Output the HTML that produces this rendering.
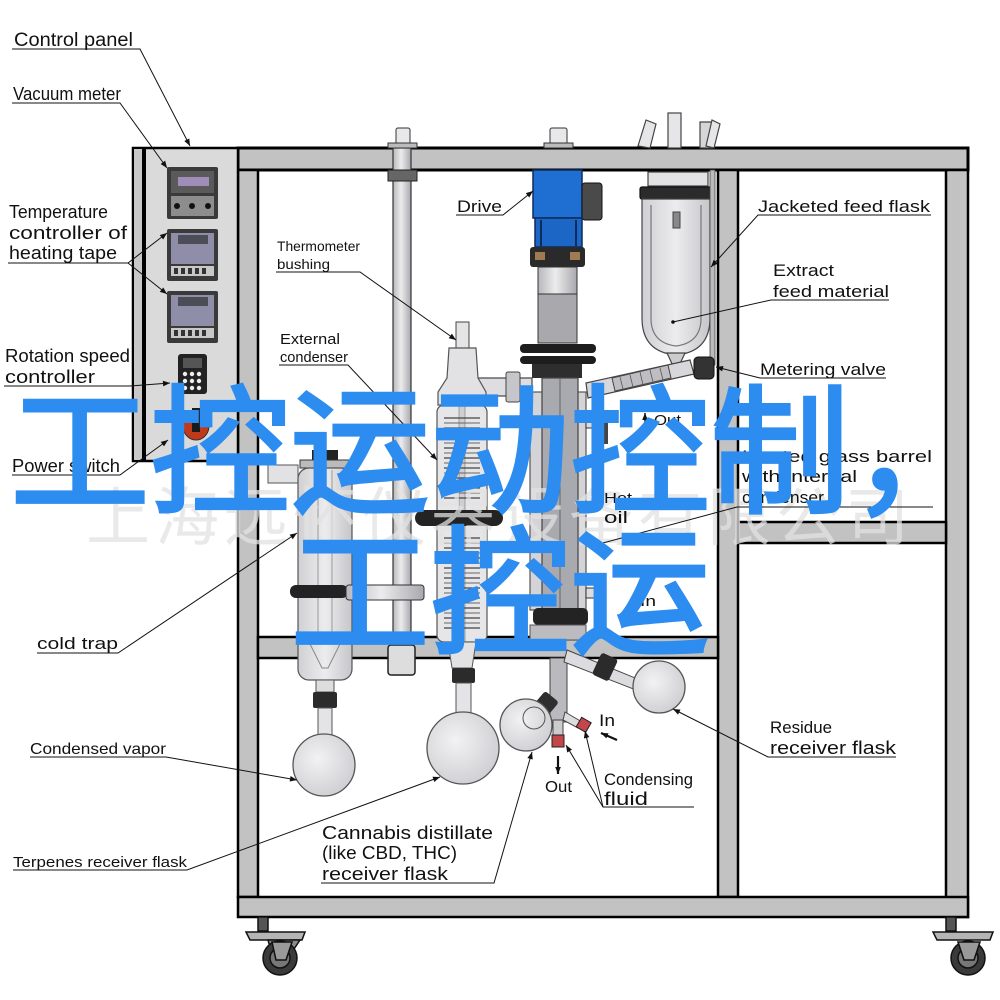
<!DOCTYPE html>
<html><head><meta charset="utf-8"><style>
html,body{margin:0;padding:0;background:#fff;}
#c{position:relative;width:1000px;height:1000px;overflow:hidden;background:#fff;}
svg{position:absolute;left:0;top:0;}
</style></head><body><div id="c">
<svg width="1000" height="1000" viewBox="0 0 1000 1000" xmlns="http://www.w3.org/2000/svg">
<defs>
<marker id="ar" viewBox="0 0 10 10" refX="10" refY="5" markerWidth="11" markerHeight="7" orient="auto" markerUnits="userSpaceOnUse"><path d="M0,1 L10,5 L0,9 z" fill="#111"/></marker>
<radialGradient id="gl" cx="40%" cy="40%" r="65%"><stop offset="0" stop-color="#f2f2f4"/><stop offset="1" stop-color="#cfcfd3"/></radialGradient>
<linearGradient id="cy" x1="0" x2="1"><stop offset="0" stop-color="#b8b8bc"/><stop offset="0.45" stop-color="#ececee"/><stop offset="1" stop-color="#a8a8ae"/></linearGradient>
<linearGradient id="gc" x1="0" x2="1"><stop offset="0" stop-color="#d0d0d4"/><stop offset="0.5" stop-color="#ececee"/><stop offset="1" stop-color="#c6c6ca"/></linearGradient>
</defs>

<!-- ===== FRAME ===== -->
<rect x="238" y="148" width="730" height="22" fill="#c2c2c2" stroke="#000" stroke-width="3"/>
<rect x="238" y="170" width="20" height="727" fill="#c2c2c2" stroke="#000" stroke-width="2.5"/>
<rect x="718" y="170" width="20" height="727" fill="#c2c2c2" stroke="#000" stroke-width="2.5"/>
<rect x="946" y="170" width="22" height="747" fill="#c2c2c2" stroke="#000" stroke-width="2.5"/>
<rect x="738" y="522" width="208" height="21" fill="#c2c2c2" stroke="#000" stroke-width="2.5"/>
<rect x="258" y="637" width="460" height="21" fill="#c2c2c2" stroke="#000" stroke-width="2.5"/>
<rect x="238" y="897" width="730" height="20" fill="#c2c2c2" stroke="#000" stroke-width="2.5"/>

<!-- casters -->
<g stroke="#111" stroke-width="1.5">
<rect x="258" y="917" width="10" height="14" fill="#555"/>
<path d="M246 932 L305 932 L302 940 L250 940 Z" fill="#b5b5b5"/>
<path d="M268 940 L300 940 L290 955 L272 955 Z" fill="#8a8a8a"/>
<circle cx="280" cy="958" r="17" fill="#3a3a3a"/>
<circle cx="280" cy="958" r="10" fill="#777"/>
<path d="M272 942 L292 942 L286 960 L276 960 Z" fill="#9a9a9a"/>
<rect x="946" y="917" width="10" height="14" fill="#555"/>
<path d="M933 932 L993 932 L990 940 L937 940 Z" fill="#b5b5b5"/>
<circle cx="968" cy="958" r="17" fill="#3a3a3a"/>
<circle cx="968" cy="958" r="10" fill="#777"/>
<path d="M958 942 L980 942 L974 960 L964 960 Z" fill="#9a9a9a"/>
</g>

<!-- ===== CONTROL PANEL ===== -->
<rect x="133" y="148" width="105" height="313" fill="#dadada" stroke="#000" stroke-width="2.5"/>
<rect x="133" y="148" width="10" height="313" fill="#c8c8c8" stroke="#000" stroke-width="2"/>
<line x1="145" y1="148" x2="145" y2="461" stroke="#000" stroke-width="2"/>
<!-- vacuum meter -->
<rect x="167" y="167" width="51" height="52" rx="2" fill="#3a3a3a"/>
<rect x="171" y="171" width="43" height="22" fill="#5a5a5a"/>
<rect x="178" y="177" width="31" height="9" fill="#a08cb8"/>
<rect x="171" y="196" width="43" height="20" fill="#8d8d8d"/>
<circle cx="177" cy="206" r="3" fill="#111"/><circle cx="192" cy="206" r="3" fill="#111"/><circle cx="208" cy="206" r="3" fill="#111"/>
<!-- temp controllers -->
<g>
<rect x="167" y="229" width="51" height="52" rx="2" fill="#3a3a3a"/>
<rect x="171" y="233" width="43" height="31" fill="#8e8ea8"/>
<rect x="178" y="235" width="30" height="9" fill="#4d4d58"/>
<rect x="171" y="266" width="43" height="10" fill="#c8c8c8"/>
<path d="M174 268h4v6h-4zM181 268h4v6h-4zM188 268h4v6h-4zM195 268h4v6h-4zM202 268h4v6h-4z" fill="#333"/>
</g>
<g transform="translate(0,62)">
<rect x="167" y="229" width="51" height="52" rx="2" fill="#3a3a3a"/>
<rect x="171" y="233" width="43" height="31" fill="#8e8ea8"/>
<rect x="178" y="235" width="30" height="9" fill="#4d4d58"/>
<rect x="171" y="266" width="43" height="10" fill="#c8c8c8"/>
<path d="M174 268h4v6h-4zM181 268h4v6h-4zM188 268h4v6h-4zM195 268h4v6h-4zM202 268h4v6h-4z" fill="#333"/>
</g>
<!-- rotation speed -->
<rect x="178" y="354" width="29" height="40" rx="3" fill="#222"/>
<rect x="183" y="358" width="19" height="10" fill="#555"/>
<g fill="#eee"><circle cx="185" cy="374" r="2.2"/><circle cx="192" cy="374" r="2.2"/><circle cx="199" cy="374" r="2.2"/><circle cx="185" cy="381" r="2.2"/><circle cx="192" cy="381" r="2.2"/><circle cx="199" cy="381" r="2.2"/><circle cx="185" cy="388" r="2.2"/><circle cx="192" cy="388" r="2.2"/><circle cx="199" cy="388" r="2.2"/></g>
<!-- power switch -->
<ellipse cx="196" cy="426" rx="13" ry="14" fill="#c0391b" stroke="#333"/>
<rect x="192" y="408" width="8" height="24" fill="#1a1a1a"/>

<!-- ===== SUPPORT ROD ===== -->
<rect x="393" y="148" width="18" height="527" fill="url(#cy)" stroke="#333" stroke-width="1.2"/>
<rect x="396" y="128" width="14" height="16" rx="2" fill="#e8e8ea" stroke="#333"/>
<rect x="388" y="143" width="29" height="5" fill="#bbb" stroke="#333"/>
<rect x="388" y="170" width="29" height="11" fill="#666" stroke="#222"/>
<rect x="388" y="645" width="27" height="30" rx="3" fill="#ddd" stroke="#222" stroke-width="1.5"/>

<!-- ===== DRIVE ===== -->
<rect x="550" y="128" width="17" height="16" rx="2" fill="#e8e8ea" stroke="#333"/>
<rect x="544" y="143" width="29" height="5" fill="#bbb" stroke="#333"/>
<rect x="533" y="170" width="49" height="48" fill="#1f6ed2" stroke="#0d2c5a" stroke-width="1.5"/>
<rect x="582" y="183" width="20" height="37" rx="3" fill="#4a4a4a" stroke="#111"/>
<rect x="535" y="218" width="47" height="29" fill="#1c66c6" stroke="#0d2c5a" stroke-width="1.5"/>
<line x1="541" y1="220" x2="541" y2="246" stroke="#0d2c5a" stroke-width="2"/>
<line x1="576" y1="220" x2="576" y2="246" stroke="#0d2c5a" stroke-width="2"/>
<rect x="530" y="247" width="55" height="20" rx="3" fill="#2a2a2a"/>
<rect x="535" y="252" width="10" height="8" fill="#a07a50"/><rect x="570" y="252" width="10" height="8" fill="#a07a50"/>
<rect x="538" y="267" width="39" height="27" fill="url(#cy)" stroke="#333"/>
<rect x="538" y="294" width="39" height="49" fill="#a9a9ad" stroke="#333"/>
<rect x="520" y="344" width="76" height="9" rx="4" fill="#1d1d1d"/>
<rect x="520" y="356" width="76" height="8" rx="4" fill="#1d1d1d"/>
<rect x="532" y="364" width="50" height="14" fill="#2e2e2e"/>

<!-- ===== FEED FLASK ===== -->
<g stroke="#444" stroke-width="1.2">
<path d="M638 146 L646 120 L656 124 L650 148 Z" fill="#e6e6e8"/>
<rect x="668" y="113" width="13" height="35" fill="#e6e6e8"/>
<path d="M700 148 L700 122 L712 122 L712 148 Z" fill="#d6d6d8"/>
<path d="M706 146 L712 120 L720 124 L714 148 Z" fill="#e6e6e8"/>
<rect x="648" y="172" width="60" height="14" fill="#e2e2e4"/>
<rect x="640" y="187" width="73" height="12" rx="2" fill="#2b2b2b" stroke="#111"/>
<path d="M642 199 L642 318 Q642 352 676 355 Q710 352 710 318 L710 199 Z" fill="url(#gc)"/>
<path d="M651 205 L651 320 Q652 343 676 346 Q700 343 701 320 L701 205" fill="none" stroke="#777"/>
<path d="M667 353 L685 353 L678 368 L674 368 Z" fill="#ccc"/>
</g>
<rect x="673" y="212" width="7" height="16" fill="#888" stroke="#444"/>
<circle cx="673" cy="322" r="1.8" fill="#111"/>
<rect x="710" y="170" width="5" height="195" fill="#bbb" stroke="#444" stroke-width="0.8"/>

<!-- metering valve & arm -->
<path d="M586 383 L690 360 L694 374 L588 398 Z" fill="#d8d8dc" stroke="#444" stroke-width="1.2"/>
<path d="M612 378 L668 365 L671 378 L615 391 Z" fill="#bdbdc2" stroke="#444"/>
<g stroke="#555" stroke-width="0.8"><line x1="620" y1="377" x2="623" y2="389"/><line x1="630" y1="375" x2="633" y2="387"/><line x1="640" y1="372" x2="643" y2="385"/><line x1="650" y1="370" x2="653" y2="382"/><line x1="660" y1="368" x2="663" y2="380"/></g>
<rect x="694" y="357" width="20" height="22" rx="4" fill="#333" stroke="#111"/>

<!-- ===== REACTOR COLUMN ===== -->
<rect x="530" y="392" width="56" height="218" fill="#d4d4d8" stroke="#555" stroke-width="1.2"/>
<rect x="542" y="378" width="36" height="262" fill="#a9a9b0" stroke="#444" stroke-width="1.2"/>
<line x1="560" y1="378" x2="560" y2="640" stroke="#666"/>
<rect x="533" y="608" width="55" height="17" rx="5" fill="#232323"/>
<rect x="530" y="625" width="56" height="15" fill="#bcbcc0" stroke="#555"/>
<!-- hot oil ports -->
<path d="M586 418 L606 418 L606 440 L598 440 L598 428 L586 428 Z" fill="#ddd" stroke="#333"/>
<rect x="602" y="412" width="6" height="32" fill="#444"/>
<path d="M586 588 L606 588 L606 612 L598 612 L598 598 L586 598 Z" fill="#ddd" stroke="#333"/>
<rect x="600" y="584" width="6" height="32" fill="#444"/>
<line x1="645" y1="425" x2="645" y2="413" stroke="#111" stroke-width="1.5" marker-end="url(#ar)"/>
<!-- left arm to condenser -->
<rect x="476" y="378" width="56" height="18" fill="#dedee2" stroke="#444" stroke-width="1.2"/>
<rect x="506" y="372" width="14" height="30" rx="2" fill="#c6c6ca" stroke="#444"/>

<!-- below shelf -->
<rect x="550" y="658" width="17" height="64" fill="#b9b9be" stroke="#444"/>
<path d="M567 650 L640 680 L636 690 L564 662 Z" fill="#dcdce0" stroke="#444"/>
<rect x="596" y="655" width="18" height="24" rx="3" transform="rotate(25 605 667)" fill="#2b2b2b"/>
<circle cx="659" cy="687" r="26" fill="url(#gl)" stroke="#555" stroke-width="1.3"/>
<rect x="536" y="694" width="18" height="22" rx="3" transform="rotate(40 545 705)" fill="#2e2e2e"/>
<circle cx="526" cy="725" r="26" fill="url(#gl)" stroke="#555" stroke-width="1.3"/>
<circle cx="534" cy="718" r="11" fill="none" stroke="#555"/>
<rect x="553" y="720" width="10" height="15" fill="#ccc" stroke="#444"/>
<rect x="552" y="735" width="12" height="12" fill="#c2464a" stroke="#222"/>
<path d="M565 712 L582 722 L578 728 L563 720 Z" fill="#ddd" stroke="#444"/>
<rect x="578" y="719" width="11" height="11" transform="rotate(30 583 725)" fill="#c2464a" stroke="#222"/>

<!-- ===== EXTERNAL CONDENSER ===== -->
<rect x="456" y="322" width="13" height="26" fill="#e4e4e6" stroke="#444"/>
<path d="M449 348 L476 348 L478 378 L486 392 L486 405 L438 405 L438 392 L447 378 Z" fill="#e2e2e4" stroke="#555" stroke-width="1.2"/>
<rect x="437" y="405" width="50" height="237" rx="7" fill="#e6e6e8" stroke="#555" stroke-width="1.2"/>
<rect x="459" y="405" width="6" height="237" fill="#cfcfd3" stroke="#777" stroke-width="0.6"/>
<g fill="none" stroke="#444" stroke-width="1.3">
<path d="M444 418 h36 M444 428 h36 M444 438 h36 M444 448 h36 M444 458 h36 M444 468 h36 M444 478 h36 M444 488 h36 M444 498 h36 M444 538 h36 M444 548 h36 M444 558 h36 M444 568 h36 M444 578 h36 M444 588 h36 M444 598 h36 M444 608 h36 M444 618 h36 M444 628 h36"/>
</g>
<g fill="none" stroke="#666" stroke-width="1">
<path d="M444 423 h36 M444 433 h36 M444 443 h36 M444 453 h36 M444 463 h36 M444 473 h36 M444 483 h36 M444 493 h36 M444 543 h36 M444 553 h36 M444 563 h36 M444 573 h36 M444 583 h36 M444 593 h36 M444 603 h36 M444 613 h36 M444 623 h36"/>
</g>
<rect x="415" y="510" width="88" height="16" rx="8" fill="#232323"/>
<path d="M448 642 L476 642 L472 668 L452 668 Z" fill="#e2e2e4" stroke="#555"/>
<rect x="452" y="668" width="23" height="15" rx="2" fill="#2b2b2b"/>
<rect x="456" y="683" width="15" height="34" fill="#e4e4e6" stroke="#555"/>
<circle cx="463" cy="748" r="36" fill="url(#gl)" stroke="#555" stroke-width="1.3"/>

<!-- ===== COLD TRAP ===== -->
<rect x="268" y="465" width="30" height="18" fill="#e2e2e4" stroke="#555"/>
<rect x="312" y="450" width="26" height="11" fill="#222"/>
<rect x="300" y="460" width="50" height="8" fill="#bbb" stroke="#333"/>
<rect x="298" y="468" width="54" height="212" rx="11" fill="url(#gc)" stroke="#555" stroke-width="1.2"/>
<line x1="318" y1="470" x2="318" y2="640" stroke="#999"/>
<line x1="332" y1="470" x2="332" y2="640" stroke="#999"/>
<path d="M308 640 L342 640 L328 668 L322 668 Z" fill="none" stroke="#888"/>
<rect x="290" y="585" width="58" height="13" rx="6" fill="#232323"/>
<rect x="346" y="585" width="78" height="15" rx="3" fill="url(#cy)" stroke="#333"/>
<rect x="316" y="680" width="18" height="12" fill="#ddd" stroke="#555"/>
<rect x="313" y="692" width="24" height="16" rx="2" fill="#2b2b2b"/>
<rect x="318" y="708" width="14" height="28" fill="#e4e4e6" stroke="#555"/>
<circle cx="324" cy="765" r="31" fill="url(#gl)" stroke="#555" stroke-width="1.3"/>

<!-- ===== WATERMARK ===== -->
<text x="500" y="540" text-anchor="middle" font-family="'Noto Sans CJK SC','WenQuanYi Zen Hei',sans-serif" font-size="64" fill="#e2e2e2" fill-opacity="0.75" letter-spacing="5">上海远怀仪器设备有限公司</text>

<!-- ===== LEADERS ===== -->
<g stroke="#111" stroke-width="1" fill="none">
<polyline points="12,49 140,49 190,146" marker-end="url(#ar)"/>
<polyline points="12,103 120,103 167,168" marker-end="url(#ar)"/>
<polyline points="8,263 128,263 167,233" marker-end="url(#ar)"/>
<polyline points="128,263 167,294" marker-end="url(#ar)"/>
<polyline points="4,386 130,386 170,383" marker-end="url(#ar)"/>
<polyline points="12,475 120,475 168,440" marker-end="url(#ar)"/>
<polyline points="276,272 360,272 456,340" marker-end="url(#ar)"/>
<polyline points="279,365 348,365 437,460" marker-end="url(#ar)"/>
<polyline points="456,215 503,215 533,191" marker-end="url(#ar)"/>
<polyline points="931,215 758,215 711,267" marker-end="url(#ar)"/>
<polyline points="889,300 771,300 673,322"/>
<polyline points="886,378 760,378 716,367" marker-end="url(#ar)"/>
<polyline points="933,507 737,507 588,547"/>
<polyline points="37,653 118,653 297,533" marker-end="url(#ar)"/>
<polyline points="30,757 166,757 297,780" marker-end="url(#ar)"/>
<polyline points="13,870 187,870 440,777" marker-end="url(#ar)"/>
<polyline points="321,883 494,883 532,752" marker-end="url(#ar)"/>
<polyline points="694,807 603,807 566,745" marker-end="url(#ar)"/>
<polyline points="603,807 585,731" marker-end="url(#ar)"/>
<polyline points="896,757 768,757 673,709" marker-end="url(#ar)"/>
</g>
<g stroke="#111" stroke-width="2.2" fill="none">
<line x1="617" y1="740" x2="601" y2="733" marker-end="url(#ar)"/>
<line x1="558" y1="756" x2="558" y2="774" marker-end="url(#ar)"/>
</g>

<!-- ===== LABELS ===== -->
<g font-family="'Liberation Sans',Arial,sans-serif" fill="#111" lengthAdjust="spacingAndGlyphs">
<text x="14" y="46" font-size="19" textLength="119" lengthAdjust="spacingAndGlyphs">Control panel</text>
<text x="13" y="100" font-size="18" textLength="108" lengthAdjust="spacingAndGlyphs">Vacuum meter</text>
<text x="9" y="218" font-size="18" textLength="99" lengthAdjust="spacingAndGlyphs">Temperature</text>
<text x="9" y="239" font-size="18" textLength="118" lengthAdjust="spacingAndGlyphs">controller of</text>
<text x="9" y="259" font-size="18" textLength="108" lengthAdjust="spacingAndGlyphs">heating tape</text>
<text x="5" y="362" font-size="18" textLength="125" lengthAdjust="spacingAndGlyphs">Rotation speed</text>
<text x="5" y="383" font-size="18" textLength="90" lengthAdjust="spacingAndGlyphs">controller</text>
<text x="12" y="472" font-size="18" textLength="108" lengthAdjust="spacingAndGlyphs">Power switch</text>
<text x="277" y="251" font-size="14" textLength="83" lengthAdjust="spacingAndGlyphs">Thermometer</text>
<text x="277" y="269" font-size="14" textLength="53" lengthAdjust="spacingAndGlyphs">bushing</text>
<text x="280" y="344" font-size="15" textLength="60" lengthAdjust="spacingAndGlyphs">External</text>
<text x="280" y="362" font-size="15" textLength="68" lengthAdjust="spacingAndGlyphs">condenser</text>
<text x="457" y="212" font-size="17" textLength="45" lengthAdjust="spacingAndGlyphs">Drive</text>
<text x="758" y="212" font-size="17" textLength="172" lengthAdjust="spacingAndGlyphs">Jacketed feed flask</text>
<text x="773" y="276" font-size="17" textLength="61" lengthAdjust="spacingAndGlyphs">Extract</text>
<text x="773" y="297" font-size="17" textLength="116" lengthAdjust="spacingAndGlyphs">feed material</text>
<text x="760" y="375" font-size="17" textLength="126" lengthAdjust="spacingAndGlyphs">Metering valve</text>
<text x="742" y="462" font-size="17" textLength="190" lengthAdjust="spacingAndGlyphs">Heated glass barrel</text>
<text x="742" y="482" font-size="17" textLength="115" lengthAdjust="spacingAndGlyphs">with internal</text>
<text x="742" y="503" font-size="17" textLength="82" lengthAdjust="spacingAndGlyphs">condenser</text>
<text x="604" y="503" font-size="15" textLength="28" lengthAdjust="spacingAndGlyphs">Hot</text>
<text x="604" y="523" font-size="17" textLength="24" lengthAdjust="spacingAndGlyphs">oil</text>
<text x="654" y="425" font-size="15" textLength="27" lengthAdjust="spacingAndGlyphs">Out</text>
<text x="640" y="606" font-size="15" textLength="16" lengthAdjust="spacingAndGlyphs">In</text>
<text x="37" y="649" font-size="17" textLength="81" lengthAdjust="spacingAndGlyphs">cold trap</text>
<text x="30" y="754" font-size="16" textLength="136" lengthAdjust="spacingAndGlyphs">Condensed vapor</text>
<text x="13" y="867" font-size="15" textLength="174" lengthAdjust="spacingAndGlyphs">Terpenes receiver flask</text>
<text x="322" y="839" font-size="18" textLength="171" lengthAdjust="spacingAndGlyphs">Cannabis distillate</text>
<text x="322" y="859" font-size="18" textLength="135" lengthAdjust="spacingAndGlyphs">(like CBD, THC)</text>
<text x="322" y="880" font-size="18" textLength="126" lengthAdjust="spacingAndGlyphs">receiver flask</text>
<text x="599" y="726" font-size="17" textLength="16" lengthAdjust="spacingAndGlyphs">In</text>
<text x="545" y="792" font-size="16" textLength="27" lengthAdjust="spacingAndGlyphs">Out</text>
<text x="604" y="785" font-size="17" textLength="89" lengthAdjust="spacingAndGlyphs">Condensing</text>
<text x="604" y="805" font-size="18" textLength="44" lengthAdjust="spacingAndGlyphs">fluid</text>
<text x="770" y="733" font-size="17" textLength="62" lengthAdjust="spacingAndGlyphs">Residue</text>
<text x="770" y="754" font-size="18" textLength="126" lengthAdjust="spacingAndGlyphs">receiver flask</text>
</g>

<!-- ===== BLUE OVERLAY TEXT ===== -->
<g font-family="'Noto Sans CJK SC','WenQuanYi Zen Hei',sans-serif" font-size="140" fill="#2d8cef" stroke="#2d8cef" stroke-width="3" text-anchor="middle">
<text x="500" y="502">工控运动控制，</text>
<text x="500" y="643">工控运</text>
</g>
</svg>
</div></body></html>
